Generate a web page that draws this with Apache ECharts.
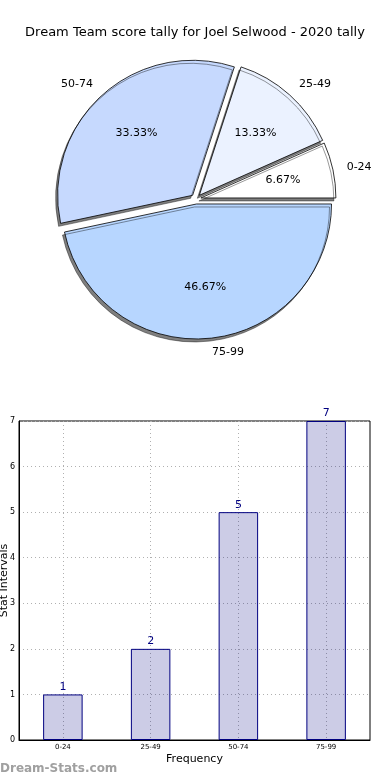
<!DOCTYPE html>
<html>
<head>
<meta charset="utf-8">
<script src="https://cdn.jsdelivr.net/npm/echarts@6/dist/echarts.min.js"></script>
<style>
html,body{margin:0;padding:0;background:#fff;}
#main{width:390px;height:780px;}
</style>
</head>
<body>
<div id="main"></div>
<script>
var categories = ['0-24', '25-49', '50-74', '75-99'];
var counts = [1, 2, 5, 7];
var sliceColors = ['#ffffff', '#ebf2ff', '#c6d9fe', '#b7d6ff'];
var yTicks = [0, 1, 2, 3, 4, 5, 6, 7];

var FONT = 'DejaVu Sans';
var R = 135;

var pieData = categories.map(function (c, i) {
  return { name: c, value: counts[i], selected: true, itemStyle: { color: sliceColors[i] } };
});
var pctData = categories.map(function (c, i) {
  return { name: c, value: counts[i], selected: true };
});

var chart = echarts.init(document.getElementById('main'), null, { renderer: 'canvas' });
chart.setOption({
  animation: false,
  backgroundColor: '#ffffff',
  textStyle: { fontFamily: FONT },
  title: {
    text: 'Dream Team score tally for Joel Selwood - 2020 tally',
    left: 'center',
    top: 21,
    textStyle: { fontFamily: FONT, fontSize: 13, fontWeight: 'normal', color: '#000' }
  },
  graphic: [{
    type: 'text',
    left: 0,
    top: 763,
    style: { text: 'Dream-Stats.com', fontFamily: FONT, fontSize: 12, fontWeight: 'bold', fill: '#a0a0a0' }
  }],
  grid: {
    left: 19, right: 20, top: 421, bottom: 40,
    containLabel: false,
    outerBoundsMode: 'none',
    show: true, borderColor: '#000', borderWidth: 1, backgroundColor: 'transparent'
  },
  xAxis: {
    type: 'category',
    data: categories,
    name: 'Frequency',
    nameLocation: 'middle',
    nameGap: 14,
    nameMoveOverlap: false,
    nameTextStyle: { fontFamily: FONT, fontSize: 11, color: '#000' },
    axisLine: { show: true, lineStyle: { color: '#000', width: 1 } },
    axisTick: { show: false },
    axisLabel: { fontFamily: FONT, fontSize: 7, color: '#000', margin: 4 },
    splitLine: { show: true, alignWithLabel: true, lineStyle: { type: [1, 3], color: '#b0b0b0', width: 1 } }
  },
  yAxis: {
    type: 'value',
    min: 0, max: 7, interval: 1,
    name: 'Stat Intervals',
    nameLocation: 'middle',
    nameGap: 9,
    nameMoveOverlap: false,
    nameRotate: 90,
    nameTextStyle: { fontFamily: FONT, fontSize: 11, color: '#000' },
    axisLine: { show: true, lineStyle: { color: '#000', width: 1 } },
    axisTick: { show: false },
    axisLabel: { fontFamily: FONT, fontSize: 8, color: '#000', margin: 4,
      formatter: function (v) { return yTicks.indexOf(v) >= 0 ? String(v) : ''; } },
    splitLine: { show: true, lineStyle: { type: [1, 3], color: '#b0b0b0', width: 1 } }
  },
  series: [
    {
      type: 'pie',
      center: [196, 199],
      radius: [0, R],
      startAngle: 0,
      clockwise: false,
      selectedMode: 'multiple',
      selectedOffset: 5,
      silent: true,
      avoidLabelOverlap: false,
      data: pieData,
      itemStyle: {
        borderColor: '#000', borderWidth: 0.8,
        shadowColor: 'rgba(0,0,0,0.5)', shadowBlur: 0, shadowOffsetX: -2, shadowOffsetY: 3
      },
      label: {
        show: true, position: 'outside', fontFamily: FONT, fontSize: 11, color: '#000',
        formatter: '{b}', distanceToLabelLine: 0
      },
      labelLine: { show: false, length: 14, length2: 0 },
      emphasis: { disabled: true },
      select: { itemStyle: { borderColor: '#000', borderWidth: 0.8 } }
    },
    {
      type: 'pie',
      center: [196, 199],
      radius: [0.2 * R, R],
      startAngle: 0,
      clockwise: false,
      selectedMode: 'multiple',
      selectedOffset: 5,
      silent: true,
      avoidLabelOverlap: false,
      data: pctData,
      itemStyle: { color: 'rgba(0,0,0,0)', borderWidth: 0 },
      label: {
        show: true, position: 'inside', fontFamily: FONT, fontSize: 11, color: '#000',
        formatter: '{d}%'
      },
      labelLine: { show: false },
      emphasis: { disabled: true },
      select: { itemStyle: { color: 'rgba(0,0,0,0)', borderWidth: 0 } }
    },
    {
      type: 'bar',
      data: counts,
      barWidth: '45%',
      itemStyle: { color: 'rgba(0,0,128,0.2)', borderColor: '#000080', borderWidth: 1 },
      label: { show: true, position: 'top', distance: 2, fontFamily: FONT, fontSize: 11, color: '#000080' },
      emphasis: { disabled: true },
      silent: true
    }
  ]
});
</script>
</body>
</html>
